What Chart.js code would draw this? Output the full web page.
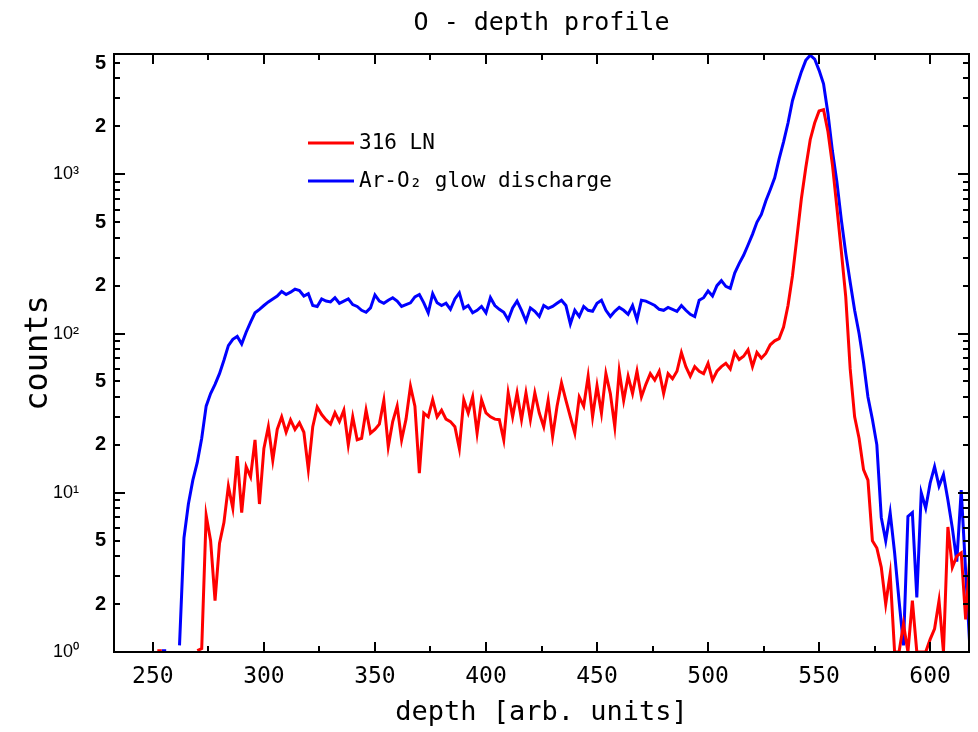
<!DOCTYPE html>
<html>
<head>
<meta charset="utf-8">
<title>O - depth profile</title>
<script src="https://cdn.jsdelivr.net/npm/chart.js@4.4.1/dist/chart.umd.min.js"></script>
<style>
  html, body { margin: 0; padding: 0; background: #fff; }
  canvas { display: block; }
</style>
</head>
<body>
<canvas id="perfil" width="978" height="732"></canvas>
<script>
// profundidad [arb. units], paso de 2
const depth = [
  250, 252, 254, 256, 258, 260, 262, 264, 266, 268,
  270, 272, 274, 276, 278, 280, 282, 284, 286, 288,
  290, 292, 294, 296, 298, 300, 302, 304, 306, 308,
  310, 312, 314, 316, 318, 320, 322, 324, 326, 328,
  330, 332, 334, 336, 338, 340, 342, 344, 346, 348,
  350, 352, 354, 356, 358, 360, 362, 364, 366, 368,
  370, 372, 374, 376, 378, 380, 382, 384, 386, 388,
  390, 392, 394, 396, 398, 400, 402, 404, 406, 408,
  410, 412, 414, 416, 418, 420, 422, 424, 426, 428,
  430, 432, 434, 436, 438, 440, 442, 444, 446, 448,
  450, 452, 454, 456, 458, 460, 462, 464, 466, 468,
  470, 472, 474, 476, 478, 480, 482, 484, 486, 488,
  490, 492, 494, 496, 498, 500, 502, 504, 506, 508,
  510, 512, 514, 516, 518, 520, 522, 524, 526, 528,
  530, 532, 534, 536, 538, 540, 542, 544, 546, 548,
  550, 552, 554, 556, 558, 560, 562, 564, 566, 568,
  570, 572, 574, 576, 578, 580, 582, 584, 586, 588,
  590, 592, 594, 596, 598, 600, 602, 604, 606, 608,
  610, 612, 614, 616, 618
];

// cuentas 316 LN (rojo)
const counts316LN = [
  null, 1.02, 1.02, null, null, null, null, null, null, null,
  1.02, 1.05, 7.2, 5, 2.1, 4.8, 6.5, 11, 8, 17,
  7.5, 14.6, 12.6, 21.5, 8.5, 19, 26, 16, 25, 30,
  24, 28.7, 25, 27.5, 24, 14, 26, 34.6, 31, 28.7,
  27, 31.8, 28, 33, 20, 30, 21.5, 22, 33, 23.7,
  25, 27, 38, 19.5, 28, 35, 21.5, 29, 46.7, 35,
  13.3, 31.7, 30, 38.4, 30, 33, 29, 28, 26, 19,
  38.4, 31.7, 40, 23.7, 38.4, 31.7, 30, 29, 28.8, 21.5,
  42.4, 30, 42.4, 28.8, 42.4, 28.8, 42.4, 31.7, 26, 38,
  22.6, 35, 49, 38, 30, 23.7, 40, 35, 54, 30,
  47, 31.6, 56, 42, 26, 58, 38, 54, 42, 58,
  40, 48, 56, 51, 58, 42, 56, 52, 58, 76,
  62, 54, 62, 58, 56, 65, 51, 58, 62, 65,
  60, 76, 68.7, 72, 79, 62, 76, 70, 75, 85,
  90, 93, 110, 150, 230, 400, 700, 1100, 1650, 2100,
  2500, 2550, 1850, 1150, 620, 330, 170, 60, 30, 22,
  14, 12, 5, 4.5, 3.4, 2, 3.1, 1, 1, 1.5,
  1, 2.1, 1, 1, 1, 1.2, 1.4, 2.1, 1, 6.1,
  3.4, 4, 4.2, 1.6, 4.2
];

// cuentas Ar-O2 glow discharge (azul)
const countsGlow = [
  null, null, 1.02, 1.02, null, null, 1.1, 5.2, 8.5, 12,
  15.5, 22, 35, 42, 48, 56, 68, 84, 92, 96,
  86, 102, 118, 135, 142, 150, 158, 165, 172, 184,
  176, 182, 190, 186, 172, 178, 150, 148, 165, 160,
  158, 168, 155, 160, 165, 152, 148, 140, 136, 145,
  175, 160, 155, 162, 168, 160, 148, 152, 156, 170,
  176, 156, 135, 178, 156, 150, 155, 142, 165, 180,
  144, 150, 135, 140, 148, 135, 168, 150, 142, 136,
  122, 145, 160, 140, 120, 145, 138, 128, 150, 144,
  148, 155, 162, 150, 115, 140, 128, 148, 140, 138,
  155, 162, 140, 128, 138, 146, 140, 132, 150, 122,
  162, 160, 155, 150, 142, 140, 146, 142, 138, 150,
  140, 132, 128, 162, 168, 185, 172, 200, 215, 198,
  192, 240, 275, 310, 360, 420, 500, 560, 680, 800,
  950, 1250, 1600, 2100, 2900, 3600, 4400, 5200, 5600, 5300,
  4500, 3700, 2400, 1400, 900, 520, 320, 210, 140, 100,
  66, 40, 29, 20, 7, 5, 7.5, 4.2, 2.1, 1.1,
  7.1, 7.5, 2.2, 10, 8, 11.5, 14.6, 11, 13, 9,
  6, 3.7, 10.4, 3.2, 1
];

// ejes
const xTicks = [250, 300, 350, 400, 450, 500, 550, 600];
const xMinorTicks = [275, 325, 375, 425, 475, 525, 575];
const yTicks = [1, 2, 5, 10, 20, 50, 100, 200, 500, 1000, 2000, 5000];
const yTickLabels = ['10⁰', '2', '5', '10¹', '2', '5', '10²', '2', '5', '10³', '2', '5'];
const yMajorTicks = [1, 10, 100, 1000];
const yMinorTicks = [2, 3, 4, 5, 6, 7, 8, 9, 20, 30, 40, 50, 60, 70, 80, 90,
  200, 300, 400, 500, 600, 700, 800, 900, 2000, 3000, 4000, 5000];

const rojo = '#ff0000';
const azul = '#0000ff';
const fuente = 'DejaVu Sans Mono';

// marco con ticks hacia dentro, titulo y leyenda
const marcoPlugin = {
  id: 'marco',
  afterDatasetsDraw(chart) {
    const { ctx, chartArea: a, scales: { x, y } } = chart;
    ctx.save();
    ctx.strokeStyle = '#000';
    ctx.lineWidth = 2;
    ctx.strokeRect(a.left, a.top, a.right - a.left, a.bottom - a.top);

    ctx.beginPath();
    const tickX = (v, len) => {
      const px = Math.round(x.getPixelForValue(v));
      ctx.moveTo(px, a.bottom); ctx.lineTo(px, a.bottom - len);
      ctx.moveTo(px, a.top); ctx.lineTo(px, a.top + len);
    };
    const tickY = (v, len) => {
      const py = Math.round(y.getPixelForValue(v));
      ctx.moveTo(a.left, py); ctx.lineTo(a.left + len, py);
      ctx.moveTo(a.right, py); ctx.lineTo(a.right - len, py);
    };
    xTicks.forEach(v => tickX(v, 10));
    xMinorTicks.forEach(v => tickX(v, 6));
    yMajorTicks.forEach(v => tickY(v, 11));
    yMinorTicks.forEach(v => tickY(v, 6));
    ctx.stroke();

    // titulo
    ctx.fillStyle = '#000';
    ctx.font = '25px "' + fuente + '"';
    ctx.textAlign = 'center';
    ctx.textBaseline = 'middle';
    ctx.fillText('O - depth profile', (a.left + a.right) / 2, 23);

    // leyenda
    const items = [
      { text: '316 LN', color: rojo, y: 143 },
      { text: 'Ar-O₂ glow discharge', color: azul, y: 181 }
    ];
    ctx.font = '21px "' + fuente + '"';
    ctx.textAlign = 'left';
    ctx.lineWidth = 3;
    items.forEach(it => {
      ctx.strokeStyle = it.color;
      ctx.beginPath();
      ctx.moveTo(308, it.y);
      ctx.lineTo(354, it.y);
      ctx.stroke();
      ctx.fillStyle = '#000';
      ctx.fillText(it.text, 359, it.y + 1);
    });
    ctx.restore();
  }
};

new Chart(document.getElementById('perfil'), {
  type: 'line',
  data: {
    datasets: [
      {
        label: '316 LN',
        data: depth.map((d, i) => ({ x: d, y: counts316LN[i] })),
        borderColor: rojo,
        borderWidth: 3,
        pointRadius: 0,
        tension: 0,
        spanGaps: false
      },
      {
        label: 'Ar-O₂ glow discharge',
        data: depth.map((d, i) => ({ x: d, y: countsGlow[i] })),
        borderColor: azul,
        borderWidth: 3,
        pointRadius: 0,
        tension: 0,
        spanGaps: false
      }
    ]
  },
  options: {
    responsive: false,
    animation: false,
    devicePixelRatio: 1,
    layout: { padding: { top: 54, right: 9, left: 0, bottom: 0 } },
    plugins: {
      legend: { display: false },
      title: { display: false },
      tooltip: { enabled: false }
    },
    scales: {
      x: {
        type: 'linear',
        min: 232.5,
        max: 617.5,
        grid: { display: false, drawTicks: false },
        border: { display: false },
        afterBuildTicks: s => { s.ticks = xTicks.map(v => ({ value: v })); },
        afterFit: s => { s.height = 80; },
        ticks: {
          autoSkip: false,
          maxRotation: 0,
          padding: 11,
          color: '#000',
          font: { family: fuente, size: 23 },
          callback: v => String(v)
        },
        title: {
          display: true,
          text: 'depth [arb. units]',
          color: '#000',
          font: { family: fuente, size: 27 },
          padding: { top: 0, bottom: 3 }
        }
      },
      y: {
        type: 'logarithmic',
        min: 1,
        max: 5700,
        grid: { display: false, drawTicks: false },
        border: { display: false },
        afterBuildTicks: s => { s.ticks = yTicks.map(v => ({ value: v })); },
        afterFit: s => { s.width = 114; },
        ticks: {
          autoSkip: false,
          padding: 8,
          color: '#000',
          font: c => {
            const pot = yMajorTicks.includes(c.tick && c.tick.value);
            return { family: 'Liberation Sans', size: pot ? 18 : 20, weight: pot ? 'normal' : 'bold' };
          },
          callback: (v, i) => {
            const t = yTickLabels[i];
            return t.startsWith('10') ? t + '\u2003\u2002' : t;
          }
        },
        title: {
          display: true,
          text: 'counts',
          color: '#000',
          font: { family: fuente, size: 32 },
          padding: { top: 19, bottom: 0 }
        }
      }
    }
  },
  plugins: [marcoPlugin]
});
</script>
</body>
</html>
